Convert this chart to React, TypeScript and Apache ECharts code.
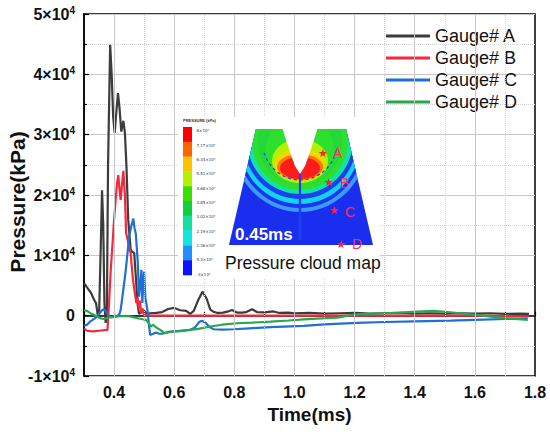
import React, { useEffect, useRef } from 'react';
import * as echarts from 'echarts';

const seriesNames = ['Gauge# A', 'Gauge# B', 'Gauge# C', 'Gauge# D'];
const seriesColors = ['#3c3c3c', '#f42a3c', '#1f6fd4', '#25a850'];

const gaugeA: [number, number][] = [
  [0.3, 5400], [0.31, 4700], [0.323, 3800], [0.334, 2600], [0.34, 2100], [0.345, 300], [0.35, -200],
  [0.356, 12000], [0.36, 20800], [0.364, 15000], [0.368, 2000], [0.372, -1200], [0.376, 0],
  [0.38, 25000], [0.387, 44900], [0.392, 40000], [0.397, 33000], [0.402, 30300], [0.408, 34000],
  [0.413, 36900], [0.418, 34500], [0.424, 30500], [0.431, 32300], [0.436, 30300], [0.441, 25000],
  [0.447, 16000], [0.455, 11000], [0.46, 10600], [0.467, 10400], [0.473, 6000], [0.478, 2000],
  [0.483, 300], [0.49, 500], [0.5, 800], [0.51, 300], [0.52, 400], [0.54, 450], [0.56, 600],
  [0.58, 1100], [0.6, 1280], [0.62, 900], [0.64, 800], [0.653, 280], [0.665, 800], [0.68, 2600],
  [0.694, 3980], [0.708, 2800], [0.72, 1000], [0.73, 660], [0.745, 450], [0.763, 500], [0.78, 700],
  [0.792, 950], [0.81, 500], [0.826, 500], [0.84, 600], [0.859, 1060], [0.875, 600], [0.9, 560],
  [0.93, 700], [0.95, 450], [0.98, 500], [1.0, 400], [1.05, 450], [1.1, 350], [1.15, 400],
  [1.2, 450], [1.25, 350], [1.3, 400], [1.35, 450], [1.4, 350], [1.45, 400], [1.5, 350],
  [1.55, 400], [1.6, 350], [1.65, 400], [1.7, 300], [1.75, 350], [1.78, 300],
];

const gaugeB: [number, number][] = [
  [0.3, -2100], [0.31, -2500], [0.33, -2600], [0.35, -2500], [0.37, -2400], [0.378, -2370],
  [0.382, 1000], [0.389, 7600], [0.395, 12000], [0.4, 15900], [0.405, 19000], [0.41, 22000],
  [0.414, 23300], [0.418, 21000], [0.422, 19200], [0.426, 21500], [0.431, 24000], [0.436, 20000],
  [0.44, 13700], [0.455, 10400], [0.463, 5900], [0.47, 3500], [0.474, 2100], [0.478, 3000],
  [0.482, 1200], [0.486, 2500], [0.49, 450], [0.495, 1200], [0.5, 0], [0.51, 200], [0.52, 0],
  [0.6, 0], [0.8, 0], [1.0, 0], [1.2, 0], [1.4, 0], [1.6, 0], [1.78, -100],
];

const gaugeC: [number, number][] = [
  [0.3, -1700], [0.31, -1500], [0.32, -1000], [0.335, -500], [0.35, 300], [0.36, 900], [0.367, 1060],
  [0.375, 500], [0.383, 0], [0.39, -300], [0.4, -200], [0.41, -100], [0.418, 300], [0.422, 950],
  [0.43, 4000], [0.439, 7600], [0.445, 10500], [0.45, 13100], [0.458, 15000], [0.464, 16100],
  [0.468, 14500], [0.472, 13700], [0.476, 11000], [0.479, 8700], [0.483, 3150], [0.487, 5000],
  [0.491, 7600], [0.494, 2100], [0.497, 5000], [0.5, 7300], [0.504, 3000], [0.511, 950],
  [0.516, -1500], [0.52, -3200], [0.53, -3000], [0.539, -2800], [0.55, -3000], [0.56, -3000],
  [0.575, -2800], [0.589, -2650], [0.62, -2500], [0.653, -2370], [0.67, -1900], [0.682, -1100],
  [0.692, -830], [0.705, -1200], [0.718, -1900], [0.731, -2250], [0.76, -2300], [0.798, -2250],
  [0.85, -2100], [0.92, -1900], [1.031, -1700], [1.1, -1450], [1.209, -1200], [1.3, -1050],
  [1.4, -950], [1.52, -830], [1.6, -700], [1.7, -550], [1.776, -430],
];

const gaugeD: [number, number][] = [
  [0.3, 900], [0.31, 800], [0.325, 300], [0.344, -150], [0.355, -450], [0.367, -550], [0.38, -300],
  [0.4, -150], [0.42, -100], [0.444, -50], [0.46, -200], [0.478, -430], [0.495, -600], [0.506, -700],
  [0.512, -1000], [0.522, -1800], [0.53, -1500], [0.544, -2100], [0.555, -2400], [0.567, -2900],
  [0.58, -2700], [0.6, -2650], [0.62, -2550], [0.653, -2370], [0.68, -2200], [0.72, -1800],
  [0.76, -1500], [0.809, -1260], [0.86, -1150], [0.92, -1000], [0.98, -800], [1.03, -600],
  [1.09, -450], [1.142, -330], [1.18, 0], [1.209, 230], [1.25, 300], [1.3, 400], [1.35, 500],
  [1.409, 660], [1.464, 780], [1.5, 650], [1.553, 400], [1.6, 150], [1.653, -160], [1.7, -400],
  [1.776, -700],
];

const xMajorGrid = [0.4, 0.6, 0.8, 1.0, 1.2, 1.4, 1.6];
const xMinorGrid = [0.5, 0.7, 0.9, 1.1, 1.3, 1.5, 1.7];

const colorbarColors = ['#ff0000', '#ff6400', '#ffc400', '#b4f000', '#3ae000', '#10d040', '#10e0a0', '#10e4e4', '#2090ff', '#0a14ff'];
const colorbarLabels = ['8×10⁴', '7.17×10⁴', '6.34×10⁴', '5.51×10⁴', '4.68×10⁴', '3.85×10⁴', '3.02×10⁴', '2.19×10⁴', '1.36×10⁴', '5.3×10³', '-3×10³'];
const gaugePointLabels = ['A', 'B', 'C', 'D'];

const FONT = "'Liberation Sans', Arial, sans-serif";

type P = [number, number];

function clipPolygon(subject: P[], clip: P[]): P[] {
  let output = subject.slice();
  for (let i = 0; i < clip.length; i++) {
    const a = clip[i];
    const b = clip[(i + 1) % clip.length];
    const inside = (p: P) => (b[0] - a[0]) * (p[1] - a[1]) - (b[1] - a[1]) * (p[0] - a[0]) >= 0;
    const inter = (p: P, q: P): P => {
      const x1 = p[0], y1 = p[1], x2 = q[0], y2 = q[1];
      const x3 = a[0], y3 = a[1], x4 = b[0], y4 = b[1];
      const den = (x1 - x2) * (y3 - y4) - (y1 - y2) * (x3 - x4);
      const t = ((x1 - x3) * (y3 - y4) - (y1 - y3) * (x3 - x4)) / den;
      return [x1 + t * (x2 - x1), y1 + t * (y2 - y1)];
    };
    const input = output;
    output = [];
    for (let j = 0; j < input.length; j++) {
      const cur = input[j];
      const prev = input[(j + input.length - 1) % input.length];
      if (inside(cur)) {
        if (!inside(prev)) output.push(inter(prev, cur));
        output.push(cur);
      } else if (inside(prev)) {
        output.push(inter(prev, cur));
      }
    }
    if (!output.length) break;
  }
  return output;
}

function ellipse(cx: number, cy: number, rx: number, ry: number, n = 72): P[] {
  const pts: P[] = [];
  for (let i = 0; i < n; i++) {
    const a = (i / n) * Math.PI * 2;
    pts.push([cx + rx * Math.cos(a), cy + ry * Math.sin(a)]);
  }
  return pts;
}

function buildInset(): any[] {
  const els: any[] = [];
  els.push({ type: 'rect', shape: { x: 178, y: 117, width: 202, height: 162 }, style: { fill: '#ffffff' }, z: 10 });
  els.push({ type: 'text', x: 183, y: 118, style: { text: 'PRESSURE (kPa)', fontSize: 4, fontWeight: 'bold', fill: '#333', fontFamily: FONT }, z: 11 });
  const cbTop = 127, cbBottom = 275, cbH = (cbBottom - cbTop) / colorbarColors.length;
  colorbarColors.forEach((c, i) => {
    els.push({ type: 'rect', shape: { x: 183, y: cbTop + i * cbH, width: 9, height: cbH + 0.3 }, style: { fill: c }, z: 11 });
  });
  const labTop = 130.7, labBottom = 274.3;
  colorbarLabels.forEach((t, i) => {
    const y = labTop + (i * (labBottom - labTop)) / (colorbarLabels.length - 1);
    els.push({ type: 'text', x: 196.5, y, style: { text: t, fontSize: 4, fill: '#333', fontFamily: 'DejaVu Sans', verticalAlign: 'middle' }, z: 11 });
  });
  const trap: P[] = [[256, 129], [346, 129], [373, 245], [229, 245]];
  els.push({ type: 'polygon', shape: { points: trap }, style: { fill: '#1a2ef0' }, z: 11 });
  const bands = [
    { cx: 300, cy: 140, rx: 68, ry: 72, color: '#3a9cff' },
    { cx: 300, cy: 140, rx: 64, ry: 68, color: '#1a34f0' },
    { cx: 300, cy: 140, rx: 61, ry: 64, color: '#12d4ec' },
    { cx: 300, cy: 140, rx: 57, ry: 59, color: '#1a40f0' },
    { cx: 300, cy: 140, rx: 53, ry: 54, color: '#14e0a8' },
    { cx: 300, cy: 140, rx: 48, ry: 50, color: '#2ee02e' },
    { cx: 300, cy: 142, rx: 42, ry: 44, color: '#24d838' },
    { cx: 300, cy: 150, rx: 34, ry: 36, color: '#2ee02e' },
    { cx: 300, cy: 161, rx: 28, ry: 22, color: '#b4f000' },
    { cx: 300, cy: 165, rx: 25, ry: 16, color: '#ffd400' },
    { cx: 300, cy: 167, rx: 23, ry: 13, color: '#ff7a00' },
    { cx: 300, cy: 168, rx: 20, ry: 11, color: '#ff1c1c' },
  ];
  bands.forEach((b) => {
    const pts = clipPolygon(ellipse(b.cx, b.cy, b.rx, b.ry), trap);
    els.push({ type: 'polygon', shape: { points: pts }, style: { fill: b.color }, z: 12 });
  });
  const innerArc = clipPolygon(ellipse(300, 140, 38, 40), trap);
  els.push({ type: 'polyline', shape: { points: innerArc.filter((p) => p[1] > 150) }, style: { stroke: '#1a40f0', lineWidth: 1.2, lineDash: [3, 3], fill: 'none' }, z: 12 });
  els.push({ type: 'polygon', shape: { points: [[299, 172], [301, 172], [301.5, 240], [298.5, 240]] }, style: { fill: '#1a40f0' }, z: 13 });
  els.push({
    type: 'polygon',
    shape: { points: [[282, 127], [286, 140], [291, 155], [295, 166], [300, 174], [305, 166], [309, 155], [314, 140], [318, 127]] },
    style: { fill: '#ffffff' }, z: 13,
  });
  const starPos: P[] = [[323, 153], [329, 182], [334, 210], [341, 244]];
  const letterPos: P[] = [[333, 153], [340, 183], [345, 212], [352, 244]];
  starPos.forEach((p, i) => {
    els.push({ type: 'text', x: p[0], y: p[1], style: { text: '★', fontSize: 11, fill: '#ff2030', fontFamily: 'DejaVu Sans', align: 'center', verticalAlign: 'middle' }, z: 14 });
    els.push({ type: 'text', x: letterPos[i][0], y: letterPos[i][1], style: { text: gaugePointLabels[i], fontSize: 14, fill: '#ff3050', fontFamily: FONT, verticalAlign: 'middle' }, z: 14 });
  });
  els.push({ type: 'text', x: 235, y: 234, style: { text: '0.45ms', fontSize: 17, fontWeight: 'bold', fill: '#ffffff', fontFamily: FONT, verticalAlign: 'middle' }, z: 14 });
  els.push({ type: 'text', x: 225, y: 263, style: { text: 'Pressure cloud map', fontSize: 17.5, fill: '#111', fontFamily: FONT, verticalAlign: 'middle' }, z: 14 });
  els.push({
    type: 'text', x: 17.5, y: 202, rotation: Math.PI / 2,
    style: { text: 'Pressure(kPa)', fontSize: 21, fontWeight: 'bold', fill: '#111', fontFamily: FONT, align: 'center', verticalAlign: 'middle' }, z: 14,
  });
  return els;
}

export default function App() {
  const ref = useRef<HTMLDivElement>(null);
  useEffect(() => {
    document.body.style.margin = '0';
    if (!ref.current) return;
    const chart = echarts.init(ref.current, undefined, { renderer: 'svg' });
    const dataSets = [gaugeA, gaugeB, gaugeC, gaugeD];
    const option: any = {
      animation: false,
      backgroundColor: '#ffffff',
      textStyle: { fontFamily: FONT },
      grid: { left: 84, right: 15, top: 14, bottom: 60, show: true, borderColor: '#000', borderWidth: 1.5, backgroundColor: 'transparent' },
      legend: {
        data: seriesNames,
        orient: 'vertical',
        left: 386,
        top: 27,
        padding: 0,
        itemGap: 4,
        itemWidth: 44,
        itemHeight: 3,
        icon: 'rect',
        textStyle: { fontSize: 18, color: '#111', fontFamily: FONT },
      },
      xAxis: {
        type: 'value',
        min: 0.3,
        max: 1.8,
        interval: 0.1,
        name: 'Time(ms)',
        nameLocation: 'middle',
        nameGap: 29,
        nameTextStyle: { fontSize: 19, fontWeight: 'bold', color: '#111', fontFamily: FONT },
        axisLine: { show: true, lineStyle: { color: '#000', width: 1.5 } },
        axisTick: { show: true, inside: true, length: 4, lineStyle: { color: '#000', width: 1.2 } },
        axisLabel: {
          color: '#111', fontSize: 16, fontWeight: 'bold', margin: 8, fontFamily: FONT,
          formatter: (v: number) => {
            const k = Math.round(v * 10);
            return k % 2 === 0 ? (k / 10).toFixed(1) : '';
          },
        },
        splitLine: { show: false },
      },
      yAxis: {
        type: 'value',
        min: -10000,
        max: 50000,
        interval: 10000,
        axisLine: { show: true, lineStyle: { color: '#000', width: 1.5 } },
        axisTick: { show: true, inside: true, length: 5, lineStyle: { color: '#000', width: 1.2 } },
        minorTick: { show: true, splitNumber: 2, length: 3, lineStyle: { color: '#000', width: 1.2 } },
        splitLine: { show: true, lineStyle: { color: '#c8c8c8', width: 1 } },
        minorSplitLine: { show: true, lineStyle: { color: '#d4d4d4', width: 1, type: 'dotted' } },
        axisLabel: {
          margin: 9,
          formatter: (v: number) => (v === 0 ? '{m|0}' : `{m|${v / 10000}×10}{s|4}`),
          rich: {
            m: { fontSize: 16, fontWeight: 'bold', color: '#111', fontFamily: FONT, lineHeight: 18 },
            s: { fontSize: 10, fontWeight: 'bold', color: '#111', fontFamily: FONT, verticalAlign: 'top', lineHeight: 18 },
          },
        },
      },
      series: [
        {
          name: '__grid',
          type: 'line',
          data: [],
          silent: true,
          z: 1,
          markLine: {
            silent: true,
            symbol: ['none', 'none'],
            label: { show: false },
            animation: false,
            emphasis: { disabled: true },
            data: [
              ...xMajorGrid.map((v) => ({ xAxis: v, lineStyle: { color: '#c8c8c8', type: 'solid', width: 1 } })),
              ...xMinorGrid.map((v) => ({ xAxis: v, lineStyle: { color: '#d4d4d4', type: 'dotted', width: 1 } })),
            ],
          },
        },
        ...seriesNames.map((name, i) => ({
          name,
          type: 'line',
          data: dataSets[i],
          showSymbol: false,
          symbol: 'none',
          z: 3,
          color: seriesColors[i],
          lineStyle: { color: seriesColors[i], width: 2.2 },
        })),
      ],
      graphic: buildInset(),
    };
    chart.setOption(option);
    return () => chart.dispose();
  }, []);
  return <div ref={ref} style={{ width: 550, height: 436 }} />;
}
